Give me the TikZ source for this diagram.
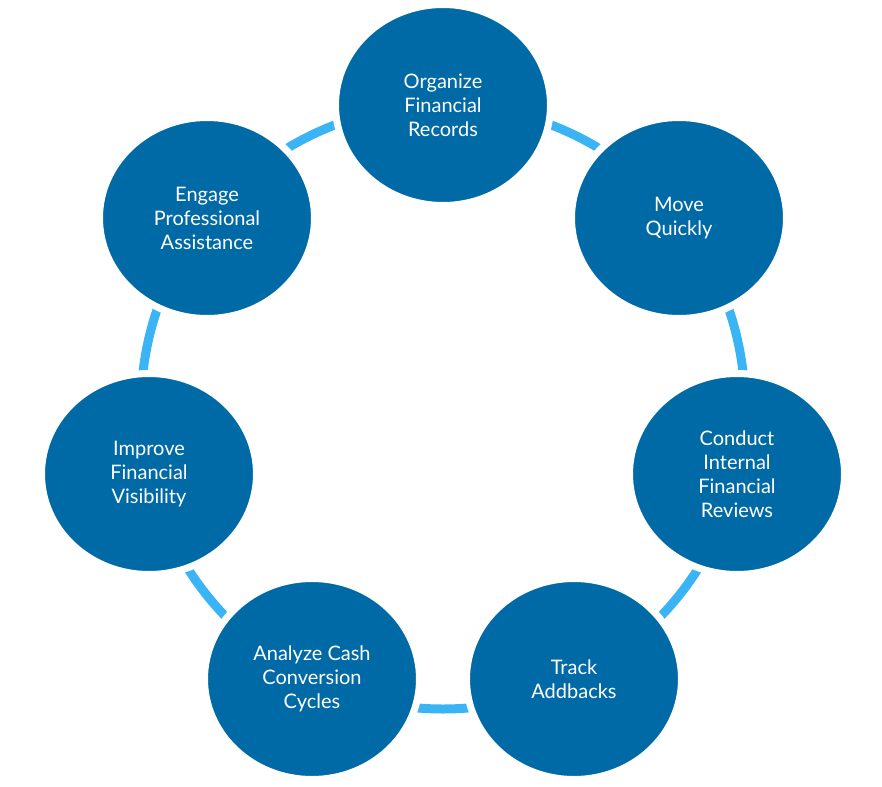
\documentclass[tikz,border=0pt]{standalone}
\usepackage{fontspec}
\setmainfont{Lato}
\usetikzlibrary{shapes.geometric}
\definecolor{nodeblue}{RGB}{0,106,166}
\definecolor{arcblue}{RGB}{59,180,245}
\begin{document}
\begin{tikzpicture}[x=1pt,y=-1pt,
  stepnode/.style={ellipse,fill=nodeblue,draw=white,line width=7pt,minimum width=215pt,minimum height=201pt,inner sep=0pt,
    text=white,align=center,font=\fontsize{20}{24}\selectfont}]
\useasboundingbox (0,0) rectangle (882,786);
\coordinate (c) at (443,407);
\draw[arcblue,line width=9pt] (c) circle (302);
\node[stepnode] (a) at (443,105) {Organize\\Financial\\Records};
\node[stepnode] (b) at (679,218) {Move\\Quickly};
\node[stepnode] (d) at (737,474) {Conduct\\Internal\\Financial\\Reviews};
\node[stepnode] (e) at (574,679) {Track\\Addbacks};
\node[stepnode] (f) at (312,679) {Analyze Cash\\Conversion\\Cycles};
\node[stepnode] (g) at (149,474) {Improve\\Financial\\Visibility};
\node[stepnode] (h) at (207,218) {Engage\\Professional\\Assistance};
\end{tikzpicture}
\end{document}
